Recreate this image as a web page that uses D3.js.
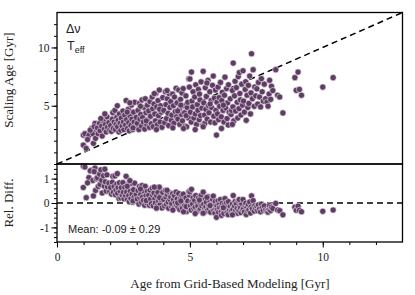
<!DOCTYPE html>
<html>
<head>
<meta charset="utf-8">
<script src="https://cdn.jsdelivr.net/npm/d3@7/dist/d3.min.js"></script>
<style>
	body { margin: 0; background: #fff; }
	text { fill: #222; }
</style>
</head>
<body>
<div id="chart-area"></div>
<script>
// DATA
var gridAge = [
	0.99, 0.99, 1.10, 1.05, 1.30, 1.37, 1.43, 1.20, 1.35, 1.48, 1.25, 1.45, 1.15, 1.40,
	1.52, 1.55, 1.60, 1.62, 1.68, 1.70, 1.75, 1.78, 1.82, 1.85, 1.88, 1.90, 1.95, 1.98, 1.65, 1.80,
	2.02, 2.05, 2.08, 2.10, 2.12, 2.15, 2.18, 2.20, 2.22, 2.25, 2.28, 2.30, 2.33, 2.35, 2.38, 2.40, 2.42, 2.45, 2.48, 2.50, 2.27,
	2.52, 2.55, 2.58, 2.60, 2.62, 2.65, 2.68, 2.70, 2.72, 2.75, 2.78, 2.80, 2.82, 2.85, 2.88, 2.90, 2.92, 2.95, 2.98, 2.64, 2.86, 2.74,
	3.02, 3.05, 3.08, 3.10, 3.12, 3.15, 3.18, 3.20, 3.22, 3.25, 3.28, 3.30, 3.32, 3.35, 3.38, 3.40, 3.42, 3.45, 3.48, 3.50, 3.14, 3.36,
	3.52, 3.55, 3.58, 3.60, 3.62, 3.65, 3.68, 3.70, 3.72, 3.75, 3.78, 3.80, 3.82, 3.85, 3.88, 3.90, 3.92, 3.95, 3.98, 3.66, 3.86, 3.74,
	4.02, 4.05, 4.08, 4.10, 4.12, 4.15, 4.18, 4.20, 4.22, 4.25, 4.28, 4.30, 4.32, 4.35, 4.38, 4.40, 4.42, 4.45, 4.48, 4.50, 4.14, 4.36,
	4.52, 4.55, 4.58, 4.60, 4.62, 4.65, 4.68, 4.70, 4.72, 4.75, 4.78, 4.80, 4.82, 4.85, 4.88, 4.90, 4.92, 4.95, 4.98, 4.54, 4.66, 4.76, 4.86, 4.96,
	5.00, 5.02, 5.05, 5.06, 5.08, 5.10, 5.12, 5.15, 5.18, 5.20, 5.22, 5.25, 5.28, 5.30, 5.32, 5.35, 5.38, 5.40, 5.42, 5.45, 5.48, 5.50, 5.20, 5.36,
	5.52, 5.55, 5.56, 5.58, 5.60, 5.62, 5.65, 5.68, 5.70, 5.72, 5.75, 5.78, 5.80, 5.82, 5.85, 5.88, 5.90, 5.92, 5.94, 5.96, 5.98, 5.64, 5.76, 5.50,
	6.00, 6.02, 6.04, 6.06, 6.08, 6.10, 6.12, 6.15, 6.18, 6.19, 6.20, 6.22, 6.25, 6.28, 6.30, 6.32, 6.35, 6.38, 6.40, 6.42, 6.45, 6.48, 6.26, 6.44,
	6.52, 6.55, 6.57, 6.60, 6.62, 6.63, 6.65, 6.68, 6.70, 6.72, 6.75, 6.78, 6.80, 6.82, 6.85, 6.88, 6.90, 6.92, 6.95, 6.98, 6.60, 6.86,
	7.00, 7.02, 7.05, 7.08, 7.10, 7.12, 7.15, 7.18, 7.20, 7.22, 7.25, 7.28, 7.30, 7.32, 7.35, 7.38, 7.42, 7.44, 7.48,
	7.52, 7.55, 7.58, 7.62, 7.66, 7.69, 7.72, 7.76, 7.80, 7.85, 7.90, 7.94, 7.98,
	8.00, 8.04, 8.07, 8.12, 8.23, 8.30, 8.38, 8.50, 8.95, 9.00, 9.07, 9.12, 9.20, 10.00, 10.39
];

var scalingAge = [
	2.48, 1.62, 1.34, 2.60, 3.05, 1.77, 3.48, 2.45, 2.60, 2.95, 2.90, 2.20, 2.10, 3.20,
	3.10, 2.60, 3.50, 2.85, 3.25, 2.40, 3.70, 3.00, 3.40, 2.75, 4.05, 3.15, 3.55, 2.90, 3.90, 4.30,
	3.30, 2.80, 3.85, 4.40, 3.05, 3.60, 4.60, 2.95, 3.40, 4.00, 3.20, 3.75, 2.75, 4.30, 3.50, 2.90, 3.95, 3.25, 4.55, 3.60, 5.00,
	2.95, 4.20, 3.35, 5.45, 3.80, 3.05, 4.70, 3.55, 2.85, 4.10, 3.30, 5.05, 3.85, 2.95, 4.45, 3.60, 5.30, 3.20, 4.00, 4.45, 3.10, 5.25,
	3.50, 4.60, 2.95, 5.20, 3.85, 4.25, 3.25, 5.50, 4.00, 3.60, 4.85, 3.00, 5.60, 4.40, 3.40, 5.05, 3.80, 4.55, 3.15, 5.35, 4.95, 3.70,
	4.10, 3.45, 5.75, 4.75, 3.20, 5.15, 4.30, 3.70, 6.05, 4.90, 3.40, 5.45, 4.15, 6.35, 3.60, 5.00, 4.45, 3.15, 5.70, 6.04, 4.70, 2.95,
	4.60, 3.55, 6.20, 5.10, 3.90, 5.60, 4.35, 3.30, 6.04, 4.85, 5.35, 3.75, 4.20, 6.00, 5.00, 3.50, 5.75, 4.50, 6.50, 4.05, 6.30, 3.10,
	5.25, 3.85, 6.35, 4.70, 3.40, 5.55, 4.25, 6.10, 3.70, 6.47, 5.00, 4.40, 3.25, 5.85, 3.19, 4.85, 5.30, 3.95, 6.60, 4.55, 5.05, 3.05, 4.15, 7.30,
	7.30, 4.45, 3.60, 7.89, 5.40, 4.90, 6.20, 3.95, 5.75, 4.30, 6.80, 3.40, 5.10, 4.60, 6.40, 3.80, 5.50, 4.15, 7.05, 4.80, 3.30, 7.95, 2.95, 6.00,
	5.25, 4.20, 3.48, 6.55, 4.70, 5.80, 3.85, 7.18, 5.00, 4.40, 6.20, 3.60, 5.45, 4.85, 6.75, 7.55, 4.10, 5.65, 3.53, 6.35, 4.60, 6.95, 5.15, 3.20,
	2.48, 5.30, 4.30, 6.60, 3.80, 5.70, 4.95, 7.00, 4.05, 3.05, 5.45, 6.15, 4.60, 3.60, 5.90, 7.45, 4.80, 6.47, 3.90, 5.25, 6.80, 4.45, 5.05, 3.35,
	5.60, 4.25, 4.60, 6.30, 4.90, 8.66, 3.70, 5.85, 7.10, 4.55, 6.55, 5.30, 3.95, 7.50, 4.75, 6.05, 5.50, 4.20, 6.85, 5.05, 3.40, 7.85,
	8.00, 5.40, 4.45, 6.40, 7.05, 3.75, 5.90, 4.85, 6.75, 5.20, 7.55, 4.30, 6.10, 9.46, 5.60, 8.09, 4.95, 6.60, 5.85,
	6.45, 5.15, 7.00, 5.75, 4.90, 7.32, 6.20, 5.40, 6.85, 5.60, 5.30, 4.96, 6.00,
	7.18, 5.55, 6.67, 6.30, 8.09, 5.90, 5.75, 4.38, 7.41, 6.32, 7.89, 6.40, 5.90, 6.60, 7.41
];

var xMajorTicks = [0, 5, 10];
var topMajorTicks = [5, 10];
var bottomMajorTicks = [-1, 0, 1];
var meanLabel = "Mean: -0.09 \u00b1 0.29";

var data = gridAge.map(function (g, i) {
	return { grid: g, scaling: scalingAge[i], rel: (scalingAge[i] - g) / g };
});

var dotColor = "#5e3c63";
var serif = "'Liberation Serif', 'DejaVu Serif', serif";
var sans = "'Liberation Sans', Arial, sans-serif";

var svg = d3.select("#chart-area")
	.append("svg")
	.attr("width", 415)
	.attr("height", 295);

// SCALES
var x = d3.scaleLinear().domain([0, 13]).range([57, 402.5]);
var yTop = d3.scaleLinear().domain([0, 13]).range([164, 12.5]);
var yBot = d3.scaleLinear().domain([-1.6, 1.6]).range([242, 164]);

function styleAxis(sel, size) {
	sel.select(".domain").remove();
	sel.selectAll(".tick line").attr("stroke", "#000").attr("stroke-width", 1);
	sel.selectAll(".tick text")
		.attr("font-family", serif)
		.attr("font-size", size)
		.attr("fill", "#333");
}

// TOP PANEL Y AXIS
svg.append("g")
	.attr("transform", "translate(57,0)")
	.call(d3.axisLeft(yTop).tickValues(d3.range(1, 13)).tickSize(3).tickFormat(""))
	.call(styleAxis, "11px");
svg.append("g")
	.attr("transform", "translate(57,0)")
	.call(d3.axisLeft(yTop).tickValues(topMajorTicks).tickSize(5.5).tickPadding(2).tickFormat(function (d) { return String(d); }))
	.call(styleAxis, "11.5px");

// BOTTOM PANEL Y AXIS
svg.append("g")
	.attr("transform", "translate(57,0)")
	.call(d3.axisLeft(yBot).tickValues(d3.range(-8, 9).map(function (k) { return k * 0.2; })).tickSize(3).tickFormat(""))
	.call(styleAxis, "11px");
svg.append("g")
	.attr("transform", "translate(57,0)")
	.call(d3.axisLeft(yBot).tickValues(bottomMajorTicks).tickSize(5.5).tickPadding(2).tickFormat(function (d) { return String(d); }))
	.call(styleAxis, "11.5px");

// X AXIS
svg.append("g")
	.attr("transform", "translate(0,242)")
	.call(d3.axisBottom(x).tickValues(d3.range(1, 13)).tickSize(3).tickFormat(""))
	.call(styleAxis, "11px");
svg.append("g")
	.attr("transform", "translate(0,242)")
	.call(d3.axisBottom(x).tickValues(xMajorTicks).tickSize(5.5).tickPadding(5).tickFormat(function (d) { return String(d); }))
	.call(styleAxis, "11.5px");

// ONE-TO-ONE AND ZERO LINES
svg.append("line")
	.attr("x1", x(0)).attr("y1", yTop(0))
	.attr("x2", x(13)).attr("y2", yTop(13))
	.attr("stroke", "#000").attr("stroke-width", 1.5)
	.attr("stroke-dasharray", "6,4");
svg.append("line")
	.attr("x1", x(0)).attr("y1", yBot(0))
	.attr("x2", x(13)).attr("y2", yBot(0))
	.attr("stroke", "#000").attr("stroke-width", 1.5)
	.attr("stroke-dasharray", "6,4");

// POINTS
svg.append("g").selectAll("circle")
	.data(data)
	.enter()
	.append("circle")
	.attr("cx", function (d) { return x(d.grid); })
	.attr("cy", function (d) { return yTop(d.scaling); })
	.attr("r", 3.1)
	.attr("fill", dotColor)
	.attr("stroke", "#eee6ef")
	.attr("stroke-width", 0.6);

svg.append("g").selectAll("circle")
	.data(data)
	.enter()
	.append("circle")
	.attr("cx", function (d) { return x(d.grid); })
	.attr("cy", function (d) { return yBot(d.rel); })
	.attr("r", 3.1)
	.attr("fill", dotColor)
	.attr("stroke", "#eee6ef")
	.attr("stroke-width", 0.6);

// FRAMES
svg.append("rect")
	.attr("x", 57).attr("y", 12.5)
	.attr("width", 345.5).attr("height", 151.5)
	.attr("fill", "none").attr("stroke", "#000").attr("stroke-width", 1.3);
svg.append("rect")
	.attr("x", 57).attr("y", 164)
	.attr("width", 345.5).attr("height", 78)
	.attr("fill", "none").attr("stroke", "#000").attr("stroke-width", 1.3);

// ANNOTATIONS
svg.append("text")
	.attr("x", 66).attr("y", 33)
	.attr("font-family", sans).attr("font-size", "12.5px")
	.text("\u0394\u03bd");
var teff = svg.append("text")
	.attr("x", 67).attr("y", 50)
	.attr("font-family", sans).attr("font-size", "12.5px");
teff.append("tspan").text("T");
teff.append("tspan").attr("dy", 3).attr("font-size", "9px").text("eff");

svg.append("text")
	.attr("x", 68).attr("y", 233)
	.attr("font-family", sans).attr("font-size", "11px")
	.text(meanLabel);

// LABELS
svg.append("text")
	.attr("x", 230).attr("y", 288)
	.attr("text-anchor", "middle")
	.attr("font-family", serif).attr("font-size", "13px")
	.text("Age from Grid-Based Modeling [Gyr]");

svg.append("text")
	.attr("transform", "translate(13,80) rotate(-90)")
	.attr("text-anchor", "middle")
	.attr("font-family", serif).attr("font-size", "13px")
	.text("Scaling Age [Gyr]");

svg.append("text")
	.attr("transform", "translate(13,203) rotate(-90)")
	.attr("text-anchor", "middle")
	.attr("font-family", serif).attr("font-size", "13px")
	.text("Rel. Diff.");
</script>
</body>
</html>
